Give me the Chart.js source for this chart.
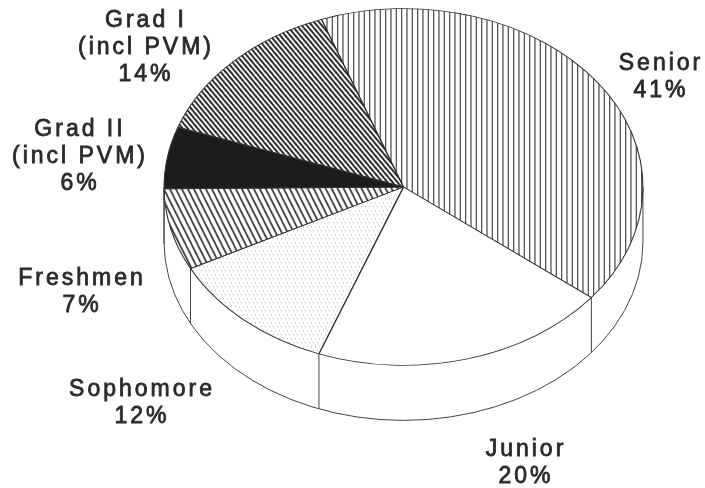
<!DOCTYPE html>
<html>
<head>
<meta charset="utf-8">
<style>
  html, body { margin: 0; padding: 0; background: #fff; overflow: hidden; }
  #chart { display: block; filter: blur(0.45px); }
</style>
<script src="https://cdn.jsdelivr.net/npm/chart.js@4/dist/chart.umd.min.js"></script>
</head>
<body>
<canvas id="chart" width="705" height="488"></canvas>
<script>
// values, printed labels are the rounded ones
const categories = ["Senior", "Junior", "Sophomore", "Freshmen", "Grad II", "Grad I"];
const shares = [41.2, 20.1, 11.7, 7.4, 5.6, 14];
const percentLabels = ["41%", "20%", "12%", "7%", "6%", "14%"];

// label lines for each slice and where they sit
const labelLines = [["Senior"], ["Junior"], ["Sophomore"], ["Freshmen"], ["Grad II", "(incl PVM)"], ["Grad I", "(incl PVM)"]];
const labelSpots = [[661, 70], [526, 456], [142, 396], [82, 285], [80, 136], [146, 27]];

const centerY = 187;
const squash = 0.745;
const depth = 55;
const lineGap = 27;

function makeTile(w, h, paint) {
  const c = document.createElement("canvas");
  c.width = w;
  c.height = h;
  const g = c.getContext("2d");
  paint(g);
  const p = g.createPattern(c, "repeat");
  // undo the squash so the hatching keeps its real spacing
  p.setTransform(new DOMMatrix().scale(1, 1 / squash));
  return p;
}

function diagonal(w, h, width, color) {
  return makeTile(w, h, (g) => {
    g.strokeStyle = color;
    g.lineWidth = width;
    for (let i = -1; i <= 1; i++) {
      g.beginPath();
      g.moveTo(i * w - w, -h);
      g.lineTo(i * w + 2 * w, 2 * h);
      g.stroke();
    }
  });
}

const verticalHatch = makeTile(16, 4, (g) => {
  g.fillStyle = "#555";
  [1, 6.33, 11.67].forEach((x) => g.fillRect(x, 0, 1.3, 4));
});

const dots = makeTile(8, 8, (g) => {
  g.fillStyle = "#b4b4b4";
  [[1, 1], [5, 1], [3, 5], [7, 5]].forEach(([x, y]) => g.fillRect(x, y, 1, 1));
});

const sliceFills = ["#fff", "#fff", "#fff", "#fff", "#1c1c1c", "#fff"];
sliceFills[0] = verticalHatch;
sliceFills[2] = dots;
sliceFills[3] = diagonal(6, 12, 1.7, "#3a3a3a");
sliceFills[5] = diagonal(5, 6, 1.9, "#222");

// side wall of the disc, sits under the slices
function drawWall(chart) {
  const arcs = chart.getDatasetMeta(0).data;
  const { x, outerRadius: r } = arcs[0];
  const ctx = chart.ctx;
  ctx.save();
  ctx.fillStyle = "#fff";
  ctx.strokeStyle = "#444";
  ctx.lineWidth = 1;
  ctx.beginPath();
  ctx.ellipse(x, centerY + depth, r, r * squash, 0, 0, Math.PI);
  ctx.lineTo(x - r, centerY);
  ctx.lineTo(x + r, centerY);
  ctx.closePath();
  ctx.fill();
  ctx.beginPath();
  ctx.ellipse(x, centerY + depth, r, r * squash, 0, 0, Math.PI);
  ctx.moveTo(x + r, centerY);
  ctx.lineTo(x + r, centerY + depth);
  ctx.moveTo(x - r, centerY);
  ctx.lineTo(x - r, centerY + depth);
  arcs.forEach((arc) => {
    const a = arc.endAngle;
    if (Math.sin(a) > 0) {
      const ex = x + r * Math.cos(a);
      const ey = centerY + r * squash * Math.sin(a);
      ctx.moveTo(ex, ey);
      ctx.lineTo(ex, ey + depth);
    }
  });
  ctx.stroke();
  ctx.restore();
}

const tiltPlugin = {
  id: "tilt",
  beforeDatasetsDraw(chart) {
    drawWall(chart);
    const arc = chart.getDatasetMeta(0).data[0];
    const ctx = chart.ctx;
    ctx.save();
    ctx.translate(0, centerY);
    ctx.scale(1, squash);
    ctx.translate(0, -arc.y);
  },
  afterDatasetsDraw(chart) {
    chart.ctx.restore();
  },
};

const labelPlugin = {
  id: "sliceLabels",
  afterDraw(chart) {
    const ctx = chart.ctx;
    ctx.save();
    ctx.font = "23px 'Liberation Sans'";
    ctx.letterSpacing = "3px";
    ctx.textAlign = "center";
    ctx.textBaseline = "alphabetic";
    ctx.fillStyle = "#2a2a2a";
    ctx.strokeStyle = "#2a2a2a";
    ctx.lineWidth = 0.8;
    categories.forEach((_, i) => {
      const [lx, ly] = labelSpots[i];
      [...labelLines[i], percentLabels[i]].forEach((text, n) => {
        ctx.fillText(text, lx, ly + n * lineGap);
        ctx.strokeText(text, lx, ly + n * lineGap);
      });
    });
    ctx.restore();
  },
};

new Chart(document.getElementById("chart"), {
  type: "pie",
  data: {
    labels: categories,
    datasets: [
      {
        data: shares,
        backgroundColor: sliceFills,
        borderColor: "#333",
        borderWidth: 1.1,
      },
    ],
  },
  options: {
    responsive: false,
    animation: false,
    rotation: -20,
    layout: { padding: { left: 102, right: 0, top: 4, bottom: 4 } },
    plugins: { legend: { display: false }, tooltip: { enabled: false } },
  },
  plugins: [tiltPlugin, labelPlugin],
});
</script>
</body>
</html>
